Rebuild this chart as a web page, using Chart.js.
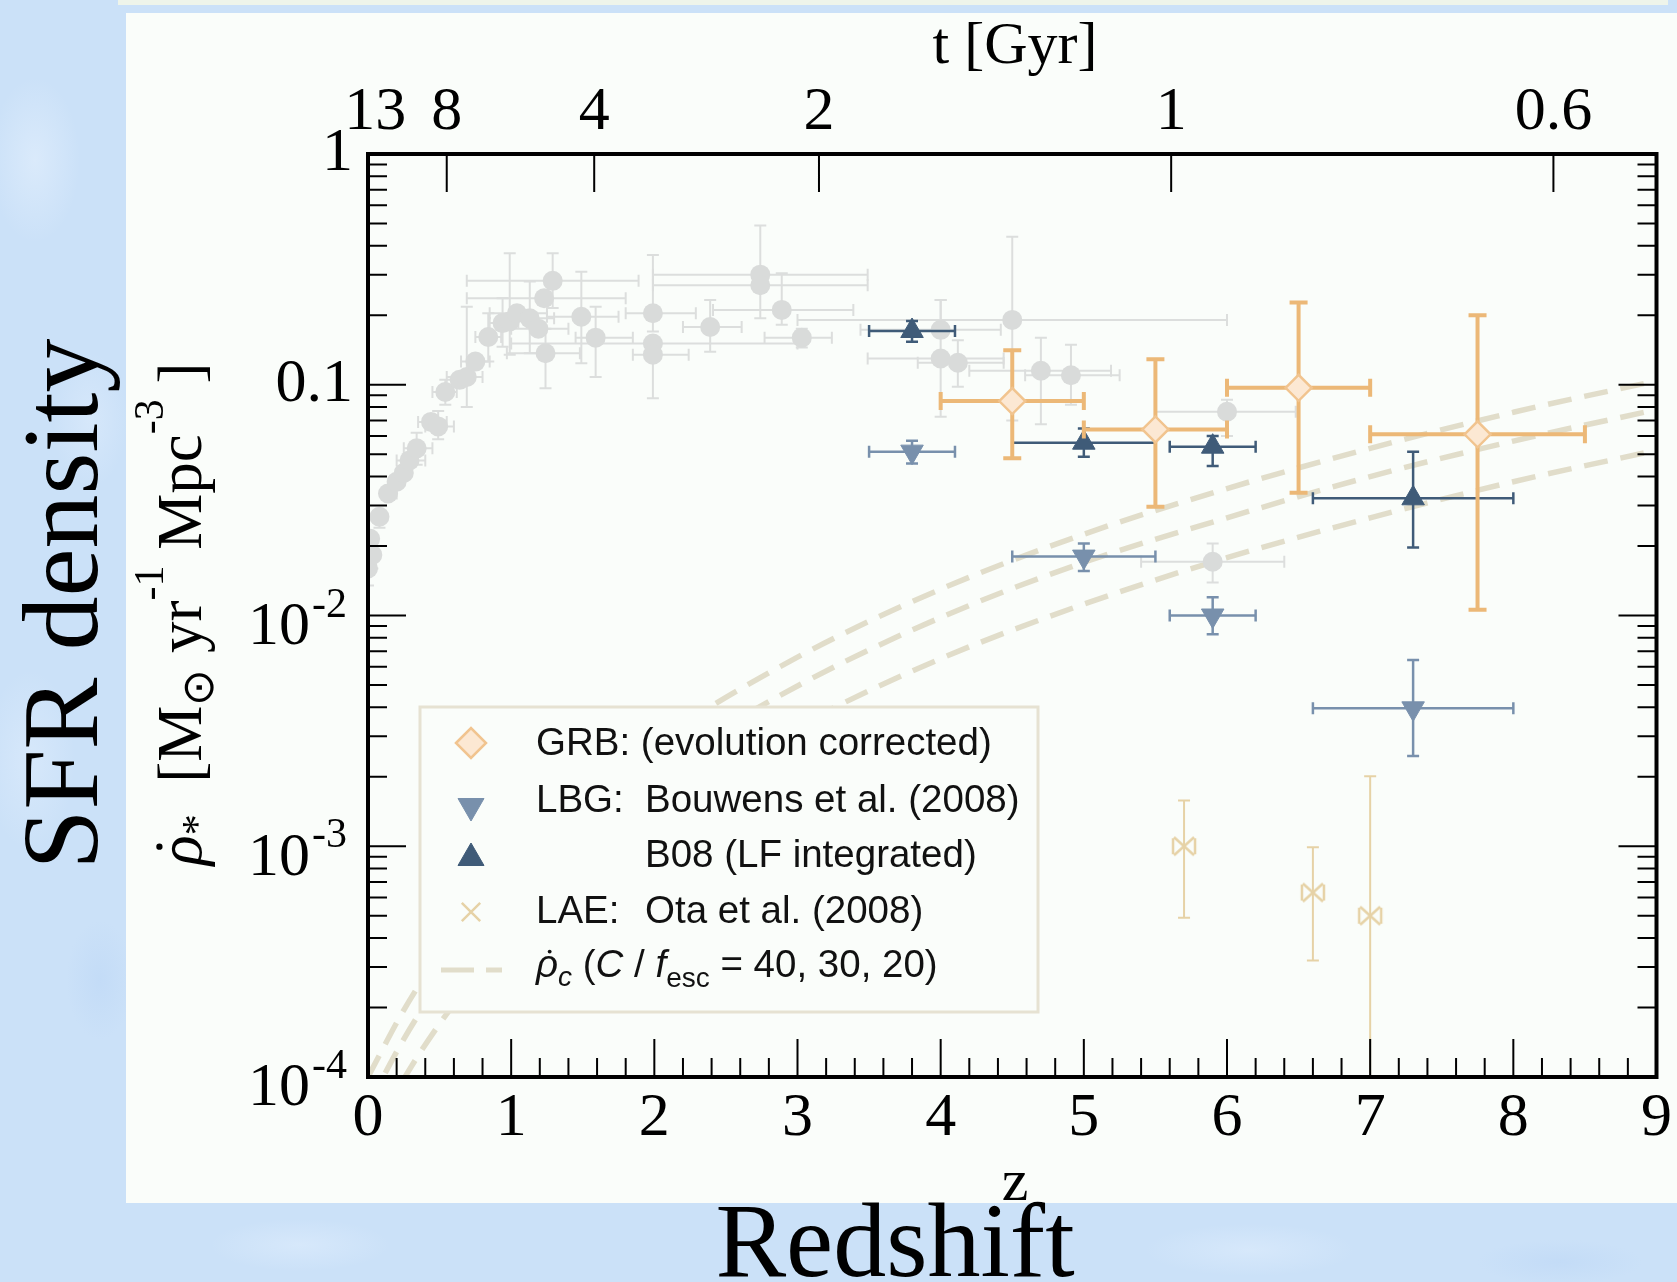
<!DOCTYPE html>
<html lang="en">
<head>
<meta charset="UTF-8">
<title>SFR density vs redshift</title>
<style>
    html, body { margin: 0; padding: 0; }
    body {
        width: 1677px; height: 1282px; overflow: hidden; position: relative;
        background-color: #cbe1f8;
        background-image:
            radial-gradient(ellipse 60px 110px at 35px 160px, rgba(228,240,253,0.6), rgba(228,240,253,0) 75%),
            radial-gradient(ellipse 50px 90px at 90px 420px, rgba(225,238,253,0.5), rgba(225,238,253,0) 75%),
            radial-gradient(ellipse 60px 120px at 30px 760px, rgba(226,239,253,0.5), rgba(226,239,253,0) 75%),
            radial-gradient(ellipse 45px 80px at 100px 980px, rgba(190,216,246,0.6), rgba(190,216,246,0) 75%),
            radial-gradient(ellipse 120px 35px at 300px 1245px, rgba(224,238,253,0.55), rgba(224,238,253,0) 75%),
            radial-gradient(ellipse 140px 35px at 1250px 1250px, rgba(224,238,253,0.55), rgba(224,238,253,0) 75%),
            radial-gradient(ellipse 110px 30px at 1560px 1262px, rgba(190,216,246,0.6), rgba(190,216,246,0) 75%);
    }
    #strip { position: absolute; left: 118px; top: 0; width: 1550px; height: 5px; background: #eef4ea; }
    #panel { position: absolute; left: 126px; top: 13px; width: 1551px; height: 1190px; background: #fafdfa; }
    #chart { position: absolute; left: 0; top: 0; }
</style>
</head>
<body>
<div id="strip"></div>
<div id="panel"></div>
<canvas id="chart" width="1677" height="1282"></canvas>

<script src="https://cdn.jsdelivr.net/npm/chart.js"></script>
<script>
    // GRB (evolution corrected)
    var grbZ   = [4.5, 5.5, 6.5, 7.75];
    var grbRho = [0.085, 0.064, 0.097, 0.061];
    var grbZlo = [4.0, 5.0, 6.0, 7.0];
    var grbZhi = [5.0, 6.0, 7.0, 8.5];
    var grbRlo = [0.048, 0.0296, 0.034, 0.0106];
    var grbRhi = [0.141, 0.129, 0.227, 0.200];

    // LBG: Bouwens et al. (2008)
    var lbgZ   = [3.8, 5.0, 5.9, 7.3];
    var lbgRho = [0.0513, 0.018, 0.0100, 0.00396];
    var lbgZlo = [3.5, 4.5, 5.6, 6.6];
    var lbgZhi = [4.1, 5.5, 6.2, 8.0];
    var lbgRlo = [0.0456, 0.0156, 0.0083, 0.00246];
    var lbgRhi = [0.0572, 0.0205, 0.0120, 0.00641];

    // B08 (LF integrated)
    var b08Z   = [3.8, 5.0, 5.9, 7.3];
    var b08Rho = [0.171, 0.0561, 0.0539, 0.0322];
    var b08Zlo = [3.5, 4.5, 5.6, 6.6];
    var b08Zhi = [4.1, 5.5, 6.2, 8.0];
    var b08Rlo = [0.1536, 0.0488, 0.0445, 0.0197];
    var b08Rhi = [0.189, 0.0647, 0.0600, 0.0512];

    // LAE: Ota et al. (2008)
    var laeZ   = [5.7, 6.6, 7.0];
    var laeRho = [0.00100, 0.00063, 0.00050];
    var laeRlo = [0.00049, 0.00032, 0.00001];
    var laeRhi = [0.00158, 0.00099, 0.00201];

    // compilation (grey points)
    var grayZ   = [0.00, 0.03, 0.015, 0.08, 0.14, 0.20, 0.25, 0.29, 0.34, 0.44, 0.49, 0.54, 0.64, 0.69, 0.75, 0.84, 0.94, 0.99, 1.04, 1.13, 1.19, 1.23, 1.29, 1.24, 1.49, 1.59, 1.99, 1.99, 1.99, 2.39, 2.74, 2.74, 2.89, 3.03, 4.00, 4.00, 4.12, 4.50, 4.70, 4.91, 6.00, 5.90];
    var grayRho = [0.0160, 0.0183, 0.0215, 0.0268, 0.0338, 0.0380, 0.0415, 0.0470, 0.0530, 0.0690, 0.0660, 0.0930, 0.105, 0.108, 0.126, 0.161, 0.185, 0.188, 0.204, 0.194, 0.175, 0.237, 0.282, 0.137, 0.197, 0.160, 0.204, 0.151, 0.135, 0.178, 0.300, 0.270, 0.211, 0.160, 0.173, 0.130, 0.1245, 0.191, 0.115, 0.110, 0.0764, 0.0171];
    var grayZlo = [null, null, null, null, 0.10, null, null, 0.20, 0.25, 0.35, 0.40, 0.45, null, 0.55, 0.65, 0.75, 0.85, null, 0.85, 1.00, 1.00, 0.69, 0.69, 0.97, 1.25, 1.45, 1.80, 1.00, 1.85, 2.20, 1.99, 1.99, 2.41, 2.77, 3.44, 3.49, 3.84, 3.00, 4.20, 4.59, 5.50, 5.40];
    var grayZhi = [null, null, null, null, 0.20, null, null, 0.40, 0.45, 0.55, 0.60, 0.62, null, 0.80, 0.85, 0.93, 1.05, null, 1.25, 1.30, 1.40, 1.80, 1.89, 1.48, 1.75, 1.85, 2.29, 3.00, 2.24, 2.61, 3.49, 3.49, 3.39, 3.24, 4.42, 4.44, 4.44, 6.00, 5.19, 5.25, 6.48, 6.40];
    var grayRlo = [0.0135, 0.0160, null, 0.0240, null, null, null, null, 0.045, null, 0.058, 0.082, null, 0.080, null, 0.126, 0.146, 0.135, null, 0.137, null, null, 0.215, 0.0965, 0.124, 0.108, 0.170, null, 0.0873, 0.139, 0.194, null, 0.182, 0.145, null, 0.0726, 0.098, 0.070, 0.0675, 0.082, 0.060, 0.0139];
    var grayRhi = [0.0190, null, null, null, null, null, null, null, 0.062, null, 0.077, 0.105, null, 0.218, null, 0.204, 0.237, 0.371, null, 0.280, null, null, 0.371, 0.175, 0.309, 0.218, 0.365, null, 0.151, 0.233, 0.490, null, 0.304, 0.175, 0.233, 0.233, 0.156, 0.438, 0.160, 0.149, 0.086, 0.0205];

    // critical SFR density, C/f_esc = 40, 30, 20
    var critZ   = [0, 0.25, 0.5, 0.75, 1, 1.5, 2, 3, 4, 5, 6, 7, 8, 9];
    var crit40  = [1.0e-4, 1.95e-4, 3.4e-4, 5.4e-4, 8.1e-4, 1.6e-3, 2.8e-3, 6.6e-3, 1.3e-2, 2.25e-2, 3.55e-2, 5.3e-2, 7.6e-2, 0.104];
    var crit30  = [7.5e-5, 1.46e-4, 2.55e-4, 4.05e-4, 6.1e-4, 1.2e-3, 2.1e-3, 4.95e-3, 9.8e-3, 1.7e-2, 2.65e-2, 4.0e-2, 5.7e-2, 7.8e-2];
    var crit20  = [5.0e-5, 9.8e-5, 1.7e-4, 2.7e-4, 4.05e-4, 8.0e-4, 1.4e-3, 3.3e-3, 6.5e-3, 1.12e-2, 1.78e-2, 2.65e-2, 3.8e-2, 5.2e-2];

    // axes
    var zTicks      = [0, 1, 2, 3, 4, 5, 6, 7, 8, 9];
    var tLabels     = ['13', '8', '4', '2', '1', '0.6'];
    var tAtZ        = [0.05, 0.55, 1.58, 3.15, 5.61, 8.28];
    var rhoTicks    = [1, 0.1, 0.01, 0.001, 0.0001];
    var rhoTickBase = ['1', '0.1', '10', '10', '10'];
    var rhoTickExp  = ['', '', '-2', '-3', '-4'];

    var SERIF = '"Liberation Serif", "Times New Roman", serif';
    var SANS = '"Liberation Sans", Arial, sans-serif';
    var C_GRAY = '#d9dbda', C_GRAYBAR = '#dcdedd';
    var C_ORANGE = '#ecb877', C_PEACH = '#fce8d3', C_PEACHLINE = '#f1c48f';
    var C_DARK = '#3f5b78', C_LIGHT = '#7890ac', C_TAN = '#e6d2a6', C_DASH = '#e1ddca';

    function pts(xs, ys, xlo, xhi, ylo, yhi) {
        return xs.map(function (x, i) {
            return {
                x: x, y: ys[i],
                xMin: xlo ? xlo[i] : null, xMax: xhi ? xhi[i] : null,
                yMin: ylo ? ylo[i] : null, yMax: yhi ? yhi[i] : null
            };
        });
    }
    function curve(ys) {
        return critZ.map(function (z, i) { return {x: z, y: ys[i]}; });
    }
    function bowtie(color) {
        var c = document.createElement('canvas');
        c.width = 28; c.height = 24;
        var g = c.getContext('2d');
        g.strokeStyle = color; g.lineWidth = 2.5;
        g.beginPath();
        g.moveTo(4, 3); g.lineTo(24, 21); g.moveTo(24, 3); g.lineTo(4, 21);
        g.moveTo(3, 4); g.lineTo(3, 20); g.moveTo(25, 4); g.lineTo(25, 20);
        g.stroke();
        return c;
    }

    // error bars, drawn just under each dataset's markers
    var errorBars = {
        id: 'errorBars',
        beforeDatasetDraw: function (chart, args) {
            var ds = chart.data.datasets[args.index];
            if (!ds.err) return;
            var ctx = chart.ctx, xs = chart.scales.x, ys = chart.scales.y, a = chart.chartArea;
            var c = ds.err.cap;
            ctx.save();
            ctx.beginPath();
            ctx.rect(a.left, a.top, a.right - a.left, a.bottom - a.top);
            ctx.clip();
            ctx.strokeStyle = ds.err.color;
            ctx.lineWidth = ds.err.width;
            ds.data.forEach(function (p) {
                var px = xs.getPixelForValue(p.x), py = ys.getPixelForValue(p.y);
                ctx.beginPath();
                [p.xMin, p.xMax].forEach(function (v) {
                    if (v == null) return;
                    var q = xs.getPixelForValue(v);
                    ctx.moveTo(px, py); ctx.lineTo(q, py);
                    ctx.moveTo(q, py - c); ctx.lineTo(q, py + c);
                });
                [p.yMin, p.yMax].forEach(function (v) {
                    if (v == null) return;
                    var q = ys.getPixelForValue(v);
                    ctx.moveTo(px, py); ctx.lineTo(px, q);
                    ctx.moveTo(px - c, q); ctx.lineTo(px + c, q);
                });
                ctx.stroke();
            });
            ctx.restore();
        }
    };

    // mixed-font text run: [text, size, italic, dy, family, dot]
    function richText(ctx, parts, x, y) {
        var total = 0;
        parts.forEach(function (p) {
            ctx.font = (p[2] ? 'italic ' : '') + p[1] + 'px ' + p[4];
            p.w = ctx.measureText(p[0]).width;
            total += p.w;
        });
        var cx = x - total / 2;
        parts.forEach(function (p) {
            ctx.font = (p[2] ? 'italic ' : '') + p[1] + 'px ' + p[4];
            ctx.fillText(p[0], cx, y + p[3]);
            if (p[5]) {
                ctx.beginPath();
                ctx.arc(cx + p.w * 0.62, y + p[3] - p[1] * 0.66, p[1] * 0.05, 0, Math.PI * 2);
                ctx.fill();
            }
            cx += p.w;
        });
        return total;
    }

    var legendBox = {
        id: 'legendBox',
        afterDatasetsDraw: function (chart) {
            var ctx = chart.ctx, H = Chart.helpers;
            ctx.save();
            ctx.fillStyle = '#fafdfa';
            ctx.fillRect(420, 707, 618, 305);
            ctx.strokeStyle = '#e6e2d2';
            ctx.lineWidth = 3;
            ctx.strokeRect(420, 707, 618, 305);

            var sx = 471;
            ctx.lineWidth = 2.5;
            ctx.fillStyle = C_PEACH; ctx.strokeStyle = C_PEACHLINE;
            H.drawPoint(ctx, {pointStyle: 'rectRot', radius: 15, rotation: 0, borderWidth: 2.5}, sx, 743);
            ctx.fillStyle = C_LIGHT; ctx.strokeStyle = C_LIGHT; ctx.lineWidth = 1;
            H.drawPoint(ctx, {pointStyle: 'triangle', radius: 15, rotation: 180, borderWidth: 1}, sx, 806);
            ctx.fillStyle = C_DARK; ctx.strokeStyle = C_DARK;
            H.drawPoint(ctx, {pointStyle: 'triangle', radius: 15, rotation: 0, borderWidth: 1}, sx, 858);
            ctx.strokeStyle = C_TAN; ctx.lineWidth = 2.5;
            H.drawPoint(ctx, {pointStyle: 'crossRot', radius: 13, rotation: 0, borderWidth: 2.5}, sx, 912);
            ctx.strokeStyle = C_DASH; ctx.lineWidth = 5; ctx.setLineDash([33, 12]);
            ctx.beginPath(); ctx.moveTo(441, 970); ctx.lineTo(502, 970); ctx.stroke();
            ctx.setLineDash([]);

            ctx.fillStyle = '#111';
            ctx.textAlign = 'left';
            ctx.textBaseline = 'alphabetic';
            ctx.font = '38.5px ' + SANS;
            ctx.fillText('GRB: (evolution corrected)', 536, 755);
            ctx.fillText('LBG:', 536, 812);
            ctx.fillText('Bouwens et al. (2008)', 645, 812);
            ctx.fillText('B08 (LF integrated)', 645, 867);
            ctx.fillText('LAE:', 536, 923);
            ctx.fillText('Ota et al. (2008)', 645, 923);
            var row5 = [
                ['\u03c1', 38.5, true, 0, SANS, true],
                ['c', 28, true, 9, SANS],
                [' (', 38.5, false, 0, SANS],
                ['C', 38.5, true, 0, SANS],
                [' / ', 38.5, false, 0, SANS],
                ['f', 38.5, true, 0, SANS],
                ['esc', 28, false, 10, SANS],
                [' = 40, 30, 20)', 38.5, false, 0, SANS]
            ];
            var w = 0;
            row5.forEach(function (p) {
                ctx.font = (p[2] ? 'italic ' : '') + p[1] + 'px ' + p[4];
                w += ctx.measureText(p[0]).width;
            });
            richText(ctx, row5, 536 + w / 2, 977);
            ctx.restore();
        }
    };

    var frame = {
        id: 'frame',
        afterDraw: function (chart) {
            var ctx = chart.ctx, a = chart.chartArea, xs = chart.scales.x, ys = chart.scales.y;
            ctx.save();
            ctx.strokeStyle = '#000';
            ctx.lineWidth = 2;
            ctx.beginPath();
            for (var k = 1; k < 45; k++) {
                var px = xs.getPixelForValue(k / 5);
                var len = (k % 5 === 0) ? 38 : 19;
                ctx.moveTo(px, a.bottom); ctx.lineTo(px, a.bottom - len);
            }
            for (var d = -4; d < 0; d++) {
                for (var m = 1; m <= 9; m++) {
                    var py = ys.getPixelForValue(m * Math.pow(10, d));
                    var l2 = (m === 1) ? 38 : 19;
                    ctx.moveTo(a.left, py); ctx.lineTo(a.left + l2, py);
                    ctx.moveTo(a.right, py); ctx.lineTo(a.right - l2, py);
                }
            }
            tAtZ.forEach(function (z) {
                var tx = xs.getPixelForValue(z);
                if (tx - a.left < 12) return;
                ctx.moveTo(tx, a.top); ctx.lineTo(tx, a.top + 38);
            });
            ctx.stroke();
            ctx.lineWidth = 4;
            ctx.strokeRect(a.left, a.top, a.right - a.left, a.bottom - a.top);

            // y tick labels
            ctx.fillStyle = '#000';
            ctx.textBaseline = 'middle';
            rhoTicks.forEach(function (v, i) {
                var py = ys.getPixelForValue(v);
                if (!rhoTickExp[i]) {
                    ctx.textAlign = 'right';
                    ctx.font = '62px ' + SERIF;
                    ctx.fillText(rhoTickBase[i], 353, py);
                } else {
                    ctx.textAlign = 'right';
                    ctx.font = '62px ' + SERIF;
                    ctx.fillText(rhoTickBase[i], 310, py + 12);
                    ctx.textAlign = 'left';
                    ctx.font = '42px ' + SERIF;
                    ctx.fillText(rhoTickExp[i], 312, py - 10);
                }
            });

            // axis titles
            ctx.textBaseline = 'alphabetic';
            ctx.textAlign = 'center';
            ctx.font = '60px ' + SERIF;
            ctx.fillText('t [Gyr]', 1015, 63);
            ctx.fillText('z', 1015, 1200);
            ctx.font = '106px ' + SERIF;
            ctx.fillText('Redshift', 895, 1276);

            ctx.save();
            ctx.translate(97, 604);
            ctx.rotate(-Math.PI / 2);
            ctx.font = '108px ' + SERIF;
            ctx.fillText('SFR density', 0, 0);
            ctx.restore();

            ctx.save();
            ctx.translate(201, 614);
            ctx.rotate(-Math.PI / 2);
            ctx.textAlign = 'left';
            richText(ctx, [
                ['\u03c1', 63, true, 0, SERIF, true],
                ['*', 42, false, 10, SERIF],
                ['  [M', 63, false, 0, SERIF],
                ['\u2299', 44, false, 12, SERIF],
                [' yr', 63, false, 0, SERIF],
                ['-1', 42, false, -38, SERIF],
                [' Mpc', 63, false, 0, SERIF],
                ['-3', 42, false, -38, SERIF],
                [' ]', 63, false, 0, SERIF]
            ], 0, 0);
            ctx.restore();
            ctx.restore();
        }
    };

    new Chart(document.getElementById('chart'), {
        type: 'scatter',
        data: {
            datasets: [
                {
                    label: 'GRB: (evolution corrected)', order: 0,
                    data: pts(grbZ, grbRho, grbZlo, grbZhi, grbRlo, grbRhi),
                    pointStyle: 'rectRot', pointRadius: 13, borderWidth: 2.5,
                    backgroundColor: C_PEACH, borderColor: C_PEACHLINE,
                    err: {color: C_ORANGE, width: 4, cap: 9}
                },
                {
                    label: 'LAE: Ota et al. (2008)', order: 1,
                    data: pts(laeZ, laeRho, null, null, laeRlo, laeRhi),
                    pointStyle: bowtie(C_TAN),
                    err: {color: C_TAN, width: 2, cap: 6}
                },
                {
                    label: 'B08 (LF integrated)', order: 2,
                    data: pts(b08Z, b08Rho, b08Zlo, b08Zhi, b08Rlo, b08Rhi),
                    pointStyle: 'triangle', pointRadius: 13, borderWidth: 1,
                    backgroundColor: C_DARK, borderColor: C_DARK,
                    err: {color: C_DARK, width: 2.5, cap: 6}
                },
                {
                    label: 'LBG: Bouwens et al. (2008)', order: 3,
                    data: pts(lbgZ, lbgRho, lbgZlo, lbgZhi, lbgRlo, lbgRhi),
                    pointStyle: 'triangle', pointRotation: 180, pointRadius: 13, borderWidth: 1,
                    backgroundColor: C_LIGHT, borderColor: C_LIGHT,
                    err: {color: C_LIGHT, width: 2.5, cap: 6}
                },
                {
                    label: 'compilation', order: 4,
                    data: pts(grayZ, grayRho, grayZlo, grayZhi, grayRlo, grayRhi),
                    pointStyle: 'circle', pointRadius: 10, borderWidth: 0,
                    backgroundColor: C_GRAY, borderColor: C_GRAY,
                    err: {color: C_GRAYBAR, width: 2, cap: 6}
                },
                {
                    label: 'C/fesc = 40', order: 5, data: curve(crit40), showLine: true,
                    pointRadius: 0, borderColor: C_DASH, borderWidth: 5.5, borderDash: [24, 13],
                    cubicInterpolationMode: 'monotone'
                },
                {
                    label: 'C/fesc = 30', order: 6, data: curve(crit30), showLine: true,
                    pointRadius: 0, borderColor: C_DASH, borderWidth: 5.5, borderDash: [24, 13],
                    cubicInterpolationMode: 'monotone'
                },
                {
                    label: 'C/fesc = 20', order: 7, data: curve(crit20), showLine: true,
                    pointRadius: 0, borderColor: C_DASH, borderWidth: 5.5, borderDash: [24, 13],
                    cubicInterpolationMode: 'monotone'
                }
            ]
        },
        options: {
            responsive: false,
            animation: false,
            devicePixelRatio: 1,
            layout: { padding: { left: 368, right: 15, top: 0, bottom: 0 } },
            plugins: { legend: { display: false }, tooltip: { enabled: false } },
            scales: {
                x: {
                    type: 'linear', position: 'bottom', min: 0, max: 9,
                    grid: { display: false, drawTicks: false }, border: { display: false },
                    afterBuildTicks: function (s) { s.ticks = zTicks.map(function (v) { return {value: v}; }); },
                    ticks: { padding: 5, color: '#000', autoSkip: false, maxRotation: 0,
                             font: { family: SERIF, size: 62 } },
                    afterFit: function (s) { s.height = 205; }
                },
                x2: {
                    type: 'linear', position: 'top', min: 0, max: 9,
                    grid: { display: false, drawTicks: false }, border: { display: false },
                    afterBuildTicks: function (s) { s.ticks = tAtZ.map(function (v) { return {value: v}; }); },
                    ticks: { padding: 4, color: '#000', autoSkip: false, maxRotation: 0,
                             font: { family: SERIF, size: 62 },
                             callback: function (v, i) { return tLabels[i]; } },
                    afterFit: function (s) { s.height = 154; }
                },
                y: { type: 'logarithmic', min: 1e-4, max: 1, display: false }
            }
        },
        plugins: [errorBars, legendBox, frame]
    });
</script>
</body>
</html>
